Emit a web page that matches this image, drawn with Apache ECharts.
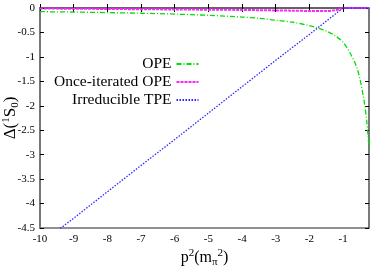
<!DOCTYPE html>
<html><head><meta charset="utf-8">
<script src="https://cdn.jsdelivr.net/npm/echarts@6/dist/echarts.min.js"></script>
<style>html,body{margin:0;padding:0;background:#fff}#c{width:382px;height:267px}</style>
</head><body><div id="c"></div>
<script>
const xTicks = [-10,-9,-8,-7,-6,-5,-4,-3,-2,-1];
const yTicks = [0,-0.5,-1,-1.5,-2,-2.5,-3,-3.5,-4,-4.5];
const opeX = [-10,-9,-8,-7,-6,-5,-4,-3.5,-3,-2.5,-2,-1.75,-1.5,-1.25,-1,-0.8,-0.6,-0.5,-0.4,-0.35,-0.3,-0.26,-0.23];
const opeY = [-0.075,-0.083,-0.094,-0.107,-0.125,-0.15,-0.185,-0.21,-0.25,-0.29,-0.36,-0.41,-0.47,-0.56,-0.7,-0.91,-1.2,-1.45,-1.8,-2.02,-2.3,-2.6,-2.85];
const iterX = [-10,-8,-6,-4,-3,-2.5,-2,-1.5,-1.25,-1.1,-1,-0.6,-0.23];
const iterY = [-0.01,-0.02,-0.03,-0.04,-0.05,-0.055,-0.06,-0.06,-0.045,-0.025,0,0,0];
const tpeX = [-9.4,-9,-8,-7,-6,-5,-4,-3,-2,-1,-0.6,-0.23];
const tpeY = [-4.51,-4.3,-3.76,-3.22,-2.69,-2.15,-1.61,-1.07,-0.54,0,0,0];
const names = ['OPE','Once-iterated OPE','Irreducible TPE'];
const pair = (xs, ys) => xs.map((x,i)=>[x,ys[i]]);
const F = 'Liberation Serif';
const chart = echarts.init(document.getElementById('c'));
const tickOpts = {show:true, inside:true, length:4, lineStyle:{color:'#000',width:1}};
chart.setOption({
  animation:false,
  textStyle:{fontFamily:F},
  grid:{left:40,right:13,top:8,bottom:39,show:true,borderColor:'#222',borderWidth:1.2,containLabel:false,outerBoundsMode:'none'},
  legend:{
    orient:'vertical', align:'right', left:49, top:51, itemGap:2, itemWidth:22, itemHeight:12,
    itemStyle:{opacity:0},
    textStyle:{fontFamily:F,fontSize:15.5,lineHeight:15,color:'#000'},
    data:names
  },
  xAxis:[{
    type:'value', min:-10, max:-0.23, interval:1, position:'bottom',
    name:'{a|p}{s|2}{a|(m}{b|π}{s|2}{a|)}', nameLocation:'middle', nameGap:20, nameMoveOverlap:false,
    nameTextStyle:{rich:{a:{fontFamily:F,fontSize:16,color:'#000'},s:{fontFamily:F,fontSize:11,color:'#000',padding:[0,0,9,0]},b:{fontFamily:F,fontSize:11,color:'#000',padding:[9,0,0,0]}}},
    axisLine:{show:true,lineStyle:{color:'#555',width:1.5}},
    axisTick:Object.assign({customValues:xTicks},tickOpts),
    axisLabel:{customValues:xTicks,fontFamily:F,fontSize:11,color:'#000',margin:6},
    splitLine:{show:false}
  },{
    type:'value', min:-10, max:-0.23, interval:1, position:'top',
    axisLine:{show:false}, axisTick:Object.assign({customValues:xTicks},tickOpts),
    axisLabel:{show:false}, splitLine:{show:false}
  }],
  yAxis:[{
    type:'value', min:-4.5, max:0, interval:0.5, position:'left',
    name:'{a|Δ(}{s|1}{a|S}{b|0}{a|)}', nameLocation:'middle', nameGap:19, nameRotate:90, nameMoveOverlap:false,
    nameTextStyle:{rich:{a:{fontFamily:F,fontSize:17,color:'#000'},s:{fontFamily:F,fontSize:11,color:'#000',padding:[0,0,9,0]},b:{fontFamily:F,fontSize:11,color:'#000',padding:[9,0,0,0]}}},
    axisLine:{show:true,lineStyle:{color:'#777',width:2}},
    axisTick:tickOpts,
    axisLabel:{fontFamily:F,fontSize:11,color:'#000',margin:5},
    splitLine:{show:false}
  },{
    type:'value', min:-4.5, max:0, interval:0.5, position:'right',
    axisLine:{show:false}, axisTick:tickOpts, axisLabel:{show:false}, splitLine:{show:false}
  }],
  series:[
    {name:names[0],type:'line',data:pair(opeX,opeY),symbol:'none',smooth:0.3,clip:true,
     lineStyle:{color:'#00e000',width:1.3,type:[5,2,1,2]},itemStyle:{color:'#00e000'}},
    {name:names[1],type:'line',data:pair(iterX,iterY),symbol:'none',smooth:0.3,clip:true,
     lineStyle:{color:'#ff22ff',width:2,type:[3,1]},itemStyle:{color:'#ff22ff'}},
    {name:names[2],type:'line',data:pair(tpeX,tpeY),symbol:'none',clip:true,
     lineStyle:{color:'#2a2aff',width:1.3,type:[1.5,1.5]},itemStyle:{color:'#2a2aff'}}
  ]
});
</script></body></html>
